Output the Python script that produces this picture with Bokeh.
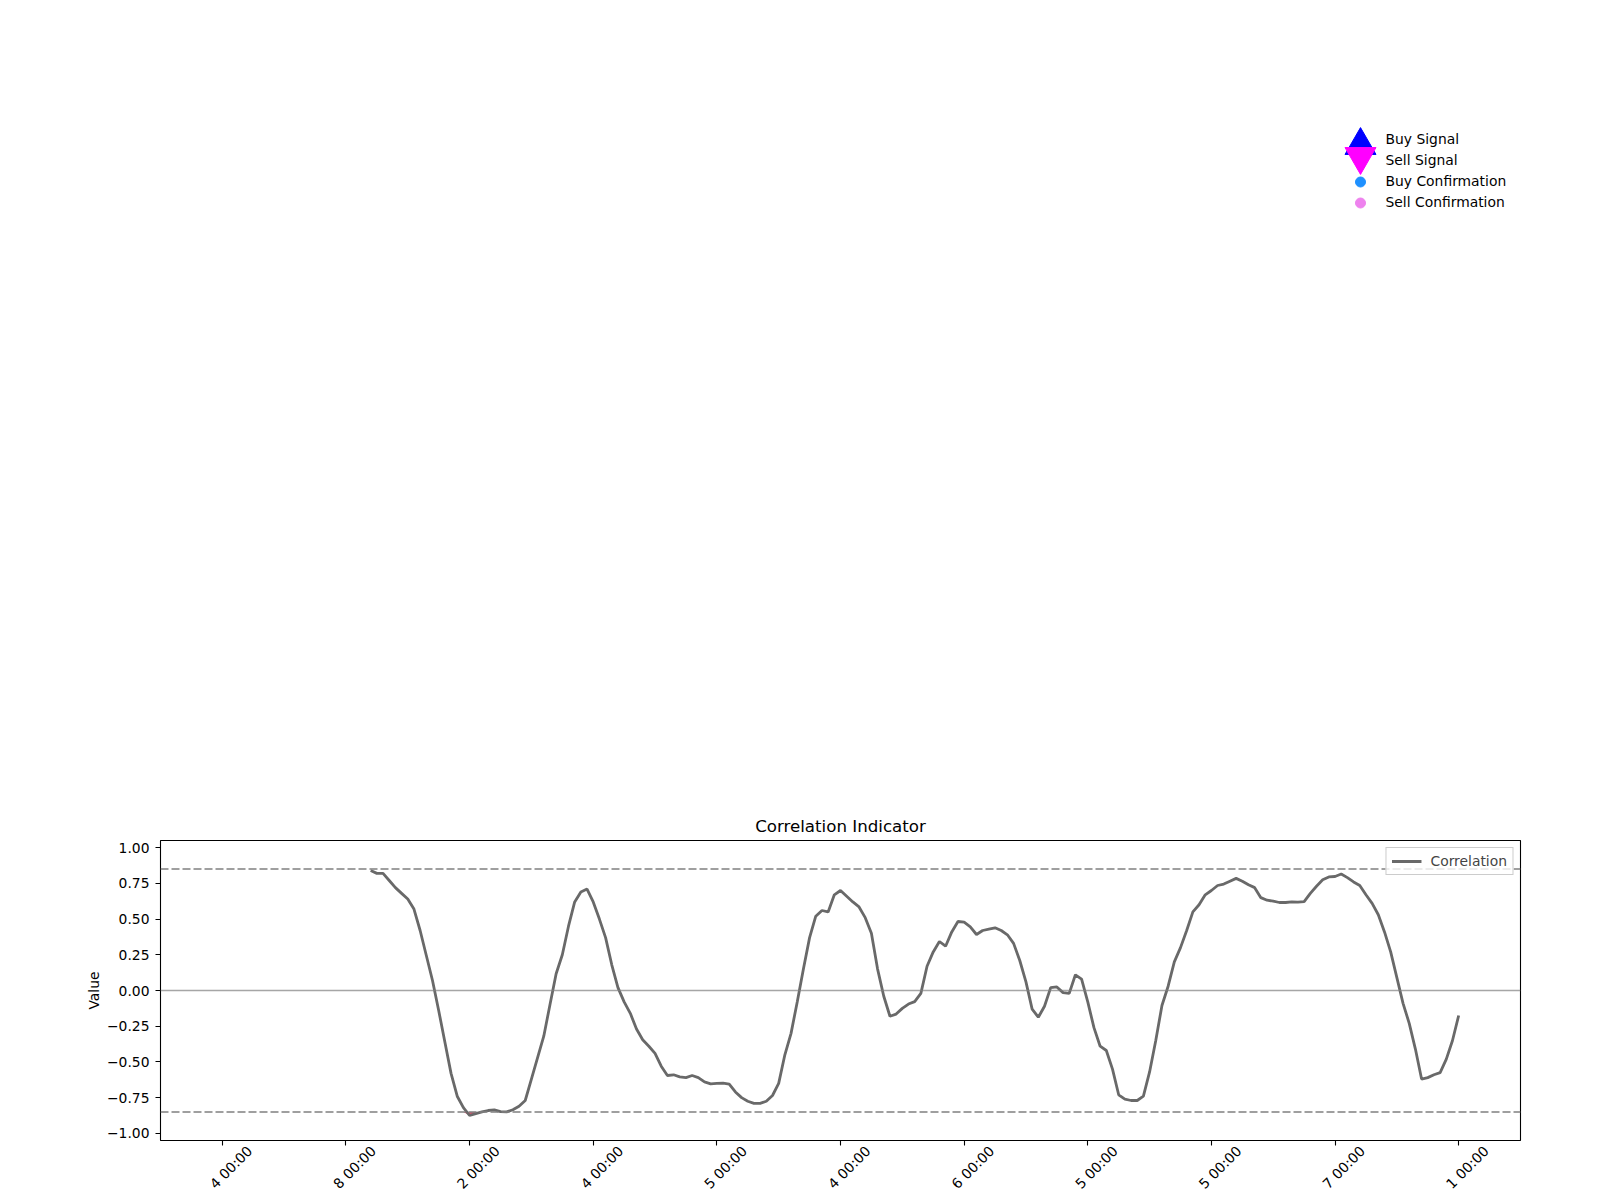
import math
import numpy as np
from bokeh.plotting import figure
from bokeh.models import Range1d, FixedTicker, Span, ColumnDataSource, LinearAxis
from bokeh.layouts import column
from bokeh.embed import file_html
from bokeh.resources import INLINE
from bokeh.core.properties import value

FONT = "DejaVu Sans"
FS = "13.89px"      # 10 pt at 100 dpi
FS_TITLE = "16.67px"

# ---------------- data ----------------
bar_count = 201          # bars on the index axis (0..200)
window_start = 24        # first bar with a defined correlation
tick_step = 20
corr_values = [
    0.84, 0.82, 0.82, 0.77, 0.72, 0.68,
    0.64, 0.57, 0.42, 0.245, 0.07, -0.14, -0.36, -0.58, -0.74, -0.82,
    -0.875, -0.862, -0.85, -0.84, -0.835, -0.848, -0.85, -0.835, -0.81, -0.77,
    -0.62, -0.47, -0.32, -0.10, 0.117, 0.25, 0.45, 0.62, 0.69, 0.71,
    0.62, 0.50, 0.37, 0.18, 0.02, -0.08, -0.16, -0.27, -0.345, -0.39,
    -0.44, -0.53, -0.595, -0.59, -0.605, -0.61, -0.595, -0.61, -0.64, -0.653,
    -0.65, -0.648, -0.655, -0.71, -0.75, -0.775, -0.79, -0.79, -0.775, -0.735,
    -0.65, -0.45, -0.30, -0.08, 0.15, 0.37, 0.52, 0.56, 0.55, 0.67,
    0.70, 0.66, 0.62, 0.585, 0.51, 0.40, 0.15, -0.04, -0.18, -0.165,
    -0.125, -0.095, -0.078, -0.02, 0.17, 0.27, 0.343, 0.31, 0.41, 0.483,
    0.478, 0.445, 0.392, 0.42, 0.43, 0.439, 0.42, 0.39, 0.33, 0.21,
    0.06, -0.13, -0.187, -0.11, 0.02, 0.025, -0.015, -0.02, 0.11, 0.08,
    -0.08, -0.26, -0.39, -0.42, -0.55, -0.73, -0.76, -0.77, -0.77, -0.74,
    -0.57, -0.35, -0.105, 0.03, 0.20, 0.30, 0.42, 0.55, 0.60, 0.67,
    0.70, 0.735, 0.745, 0.765, 0.785, 0.765, 0.74, 0.72, 0.65, 0.632,
    0.625, 0.616, 0.616, 0.62, 0.618, 0.622, 0.68, 0.73, 0.775, 0.795,
    0.798, 0.815, 0.79, 0.76, 0.735, 0.67, 0.61, 0.53, 0.41, 0.27,
    0.09, -0.09, -0.23, -0.41, -0.62, -0.61, -0.59, -0.575, -0.48, -0.35, -0.175,
]
x_tick_labels = ["4 00:00", "8 00:00", "2 00:00", "4 00:00", "5 00:00", "4 00:00",
                 "6 00:00", "5 00:00", "5 00:00", "7 00:00", "1 00:00"]
y_ticks = [-1.0, -0.75, -0.5, -0.25, 0.0, 0.25, 0.5, 0.75, 1.0]
y_limits = (-1.05, 1.05)
upper_threshold = 0.85
lower_threshold = -0.85
zero_level = 0.0
signal_labels = ["Buy Signal", "Sell Signal", "Buy Confirmation", "Sell Confirmation"]

# ---------------- layout constants ----------------
PAGE_W = 1600
BORDER_L, BORDER_R = 160, 80
FRAME_W = PAGE_W - BORDER_L - BORDER_R
TOP_H = 788
BOT_H = 412

# ---------------- top (empty price area with signal legend) ----------------
# the column aligns this frame with the indicator frame, so the x range is set in page pixels
top = figure(width=PAGE_W, height=TOP_H, output_backend="svg", toolbar_location=None,
             x_range=Range1d(BORDER_L, BORDER_L + FRAME_W), y_range=Range1d(TOP_H, 0),
             x_axis_type=None, y_axis_type=None,
             min_border_left=BORDER_L, min_border_right=BORDER_R,
             min_border_top=0, min_border_bottom=0)
top.outline_line_color = None
top.background_fill_color = "white"

leg_marker_x = 1360
leg_text_x = 1385
leg_row0 = 138
leg_step = 21
rows = [leg_row0 + k * leg_step for k in range(len(signal_labels))]

top.scatter(x=[leg_marker_x], y=[rows[0] + 7], marker="triangle", size=31,
            fill_color="blue", line_color="blue", line_width=1)
top.scatter(x=[leg_marker_x], y=[rows[1] - 3], marker="inverted_triangle", size=31,
            fill_color="magenta", line_color="magenta", line_width=1)
top.scatter(x=[leg_marker_x], y=[rows[2] + 1.5], marker="circle", size=10,
            fill_color="dodgerblue", line_color="dodgerblue")
top.scatter(x=[leg_marker_x], y=[rows[3] + 1.5], marker="circle", size=10,
            fill_color="violet", line_color="violet")
top.text(x=[leg_text_x] * len(signal_labels), y=rows, text=signal_labels,
         text_font=value(FONT), text_font_size=FS, text_baseline="middle",
         text_align="left", text_color="black")

# ---------------- correlation indicator ----------------
x = np.arange(window_start, window_start + len(corr_values))
corr = np.array(corr_values, dtype=float)
src = ColumnDataSource(dict(x=x, corr=corr, low=np.minimum(corr, lower_threshold)))

span_x = bar_count - 1
x_start, x_end = -0.05 * span_x, 1.05 * span_x
p = figure(width=PAGE_W, height=BOT_H, output_backend="svg", toolbar_location=None,
           x_range=Range1d(x_start, x_end), y_range=Range1d(*y_limits),
           min_border_left=BORDER_L, min_border_right=BORDER_R,
           min_border_top=52, min_border_bottom=60,
           title="Correlation Indicator")
p.title.align = "center"
p.title.text_font = FONT
p.title.text_font_size = FS_TITLE
p.title.text_font_style = "normal"
p.title.text_color = "black"
p.title.standoff = 9
p.grid.visible = False
p.outline_line_color = "black"
p.outline_line_alpha = 1
p.outline_line_width = 1.1

ticks_x = list(range(0, bar_count, tick_step))
p.xaxis.ticker = FixedTicker(ticks=ticks_x)
p.xaxis.major_label_text_font_size = "0px"
p.xaxis.major_label_text_color = None
p.xaxis.major_label_standoff = 0

p.yaxis.ticker = FixedTicker(ticks=y_ticks)
p.yaxis.major_label_overrides = {v: f"{v:.2f}".replace("-", "\u2212") for v in y_ticks}
p.yaxis.axis_label = "Value"
p.yaxis.major_label_standoff = 6
p.yaxis.axis_label_standoff = 2

for ax in (p.xaxis[0], p.yaxis[0]):
    ax.axis_line_color = None
    ax.major_tick_out = 5
    ax.major_tick_in = 0
    ax.major_tick_line_color = "black"
    ax.major_tick_line_width = 1.1
    ax.minor_tick_line_color = None
    ax.axis_label_text_font = FONT
    ax.axis_label_text_font_size = FS
    ax.axis_label_text_font_style = "normal"
    ax.axis_label_text_color = "black"
p.yaxis.major_label_text_font = FONT
p.yaxis.major_label_text_font_size = FS
p.yaxis.major_label_text_color = "black"

# rotated date labels: matplotlib centres them under each tick, so they sit to the right
px_per_bar = FRAME_W / (x_end - x_start)
label_shift = 27.5 / px_per_bar
p.extra_x_ranges = {"date_labels": Range1d(x_start - label_shift, x_end - label_shift)}
lab_axis = LinearAxis(x_range_name="date_labels", ticker=FixedTicker(ticks=ticks_x),
                      major_label_overrides={t: lbl for t, lbl in zip(ticks_x, x_tick_labels)},
                      major_label_orientation=math.pi / 4, major_label_standoff=3,
                      major_tick_out=0, major_tick_in=0, major_tick_line_color=None,
                      minor_tick_line_color=None, axis_line_color=None,
                      major_label_text_font=FONT, major_label_text_font_size=FS,
                      major_label_text_color="black")
p.add_layout(lab_axis, "below")

p.add_layout(Span(location=zero_level, dimension="width", line_color="gray",
                  line_alpha=0.7, line_width=1.5))
for lvl in (upper_threshold, lower_threshold):
    p.add_layout(Span(location=lvl, dimension="width", line_color="gray",
                      line_dash="8 3", line_width=1.5))

p.varea(x="x", y1=lower_threshold, y2="low", source=src, fill_color="crimson", fill_alpha=0.75)
p.line("x", "corr", source=src, line_color="dimgray", line_width=2.8, legend_label="Correlation")

p.legend.location = "top_right"
p.legend.margin = 7
p.legend.padding = 5
p.legend.spacing = 0
p.legend.glyph_width = 30
p.legend.glyph_height = 12
p.legend.label_height = 12
p.legend.label_standoff = 9
p.legend.label_text_font = FONT
p.legend.label_text_font_size = FS
p.legend.border_line_color = "#cccccc"
p.legend.border_line_alpha = 1
p.legend.background_fill_alpha = 0.8

layout = column(top, p)
open("out.html", "w").write(file_html(layout, INLINE))
